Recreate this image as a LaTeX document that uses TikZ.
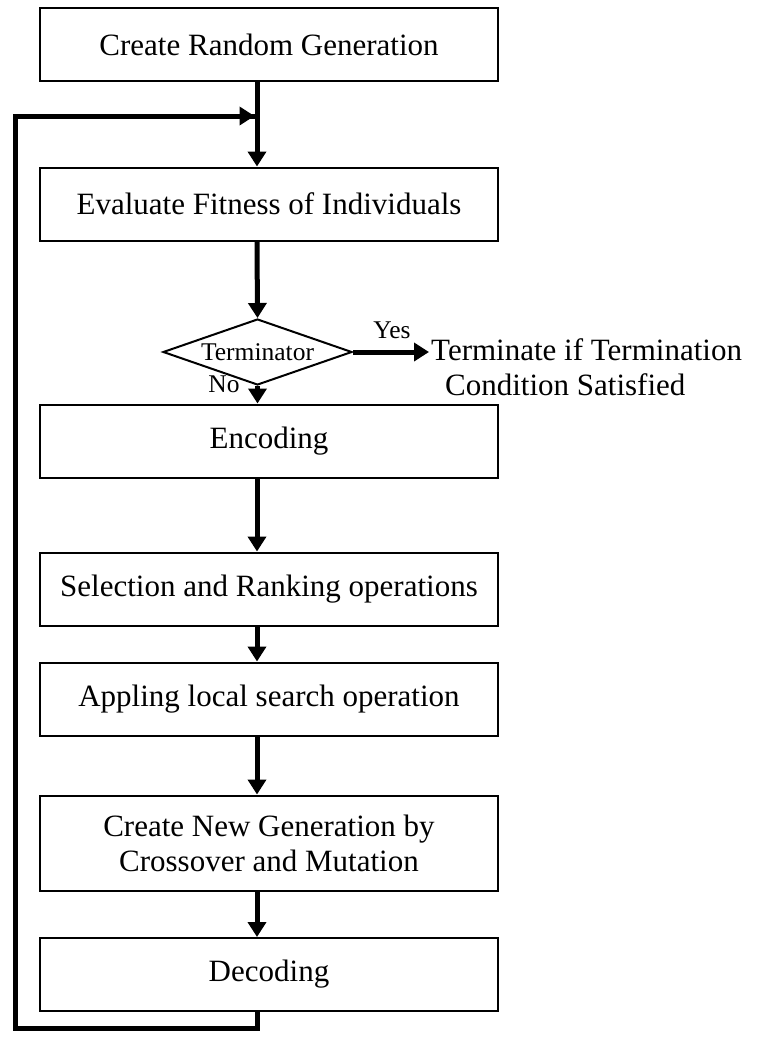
\documentclass[tikz,border=0pt]{standalone}
\usepackage{fontspec}
\setmainfont{Liberation Serif}
\usetikzlibrary{arrows.meta,shapes.geometric}

\begin{document}
\begin{tikzpicture}[
  x=1pt, y=-1pt,
  stepbox/.style={draw, line width=2pt, minimum width=458pt, minimum height=73pt,
    inner sep=0pt, align=center, font=\fontsize{31}{35}\selectfont},
  decision/.style={draw, shape=diamond, line width=2pt, minimum width=189pt,
    minimum height=66pt, inner sep=0pt, aspect=2.86, font=\fontsize{25.5}{30}\selectfont},
  smalltext/.style={inner sep=0pt, font=\fontsize{25.5}{30}\selectfont},
  bigtext/.style={inner sep=0pt, align=left, font=\fontsize{31}{35}\selectfont},
  flow/.style={line width=5pt, -{Triangle[length=15pt,width=18pt]}},
  loopline/.style={line width=5pt, line join=miter},
]
\useasboundingbox (0,0) rectangle (758,1037);

% process steps
\node[stepbox] (create) at (269,44.5) {Create Random Generation};
\node[stepbox] (eval)   at (269,204)  {Evaluate Fitness of Individuals};
\node[decision] (term)  at (257.5,352) {Terminator};
\node[stepbox] (enc)    at (269,441)  {Encoding};
\node[stepbox] (sel)    at (269,589)  {Selection and Ranking operations};
\node[stepbox] (app)    at (269,699)  {Appling local search operation};
\node[stepbox, minimum height=95pt] (newgen) at (269,843) {Create New Generation by\\Crossover and Mutation};
\node[stepbox] (dec)    at (269,974.5) {Decoding};

% exit text
\node[bigtext, anchor=west] (stop) at (431,367)
  {Terminate if Termination\\\hspace*{14pt}Condition Satisfied};

% main flow
\coordinate (join) at (257,116);
\draw[flow] (create.south -| join) -- (eval.north -| join);
\draw[flow] (eval.south -| join) -- (term.north);
\draw[flow] (term.south) -- (enc.north -| term.south);
\draw[flow] (enc.south -| join) -- (sel.north -| join);
\draw[flow] (sel.south -| join) -- (app.north -| join);
\draw[flow] (app.south -| join) -- (newgen.north -| join);
\draw[flow] (newgen.south -| join) -- (dec.north -| join);

% termination branch
\coordinate (stopin) at (429,352);
\draw[flow] (term.east) -- (stopin);
\node[smalltext] (yes) at (392,330) {Yes};
\node[smalltext] (no)  at (224,384) {No};

% feedback loop
\coordinate (lb) at (257,1028);
\coordinate (lc) at (15,1028);
\coordinate (lt) at (15,116);
\coordinate (ltip) at (254.5,116);
\draw[loopline] (dec.south -| join) -- (lb) -- (lc) -- (lt) -- (ltip);
\draw[flow] (lt) -- (ltip);
\end{tikzpicture}
\end{document}
